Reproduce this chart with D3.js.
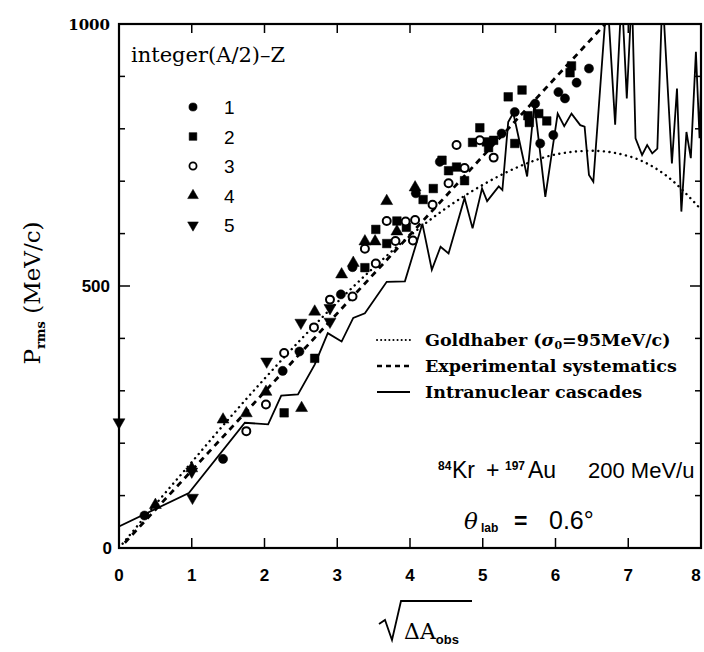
<!DOCTYPE html>
<html>
<head>
<meta charset="utf-8">
<script src="https://cdn.jsdelivr.net/npm/d3@7"></script>
<style>
  body { margin: 0; background: #fff; }
  svg text { fill: #000; }
</style>
</head>
<body>
<div class="chart"></div>
<script>
const width = 704,
    height = 652;

// data: [sqrt(dA), Prms]
const goldhaber = [[0, 0], [0.5, 83], [1, 164], [1.5, 245], [2, 323], [2.5, 398], [3, 469], [3.5, 535],
    [4, 596], [4.5, 649], [5, 693], [5.5, 728], [6, 751], [6.5, 758], [7, 748], [7.5, 713], [8, 646]];
const systematics = [[0.08, 10], [6.75, 1010]];
const cascades = [[0, 41], [0.96, 105], [1.73, 239], [2.05, 236], [2.23, 291], [2.46, 293], [2.69, 350],
    [2.87, 410], [3.06, 394], [3.22, 439], [3.38, 448], [3.68, 508], [3.93, 509], [4.17, 619], [4.30, 531],
    [4.42, 575], [4.53, 562], [4.75, 668], [4.86, 610], [4.99, 686], [5.06, 662], [5.22, 690], [5.27, 683],
    [5.35, 813], [5.42, 830], [5.61, 709], [5.71, 848], [5.86, 670], [6.03, 829], [6.12, 805], [6.22, 829],
    [6.34, 807], [6.40, 804], [6.46, 712], [6.52, 699], [6.71, 1060], [6.82, 808], [6.91, 1060], [6.98, 858],
    [7.05, 1060], [7.10, 782], [7.19, 750], [7.26, 769], [7.33, 753], [7.40, 762], [7.47, 1060], [7.60, 734],
    [7.67, 877], [7.73, 642], [7.80, 794], [7.86, 744], [7.93, 947], [7.98, 782], [8.0, 883], [8.1, 883]];

const group1 = [[0.35, 62], [1.43, 170], [2.25, 338], [2.48, 375], [3.05, 484], [3.21, 536], [4.08, 677],
    [4.41, 737], [5.26, 791], [5.44, 832], [5.72, 848], [5.79, 772], [5.97, 788], [6.04, 870], [6.13, 858],
    [6.29, 888], [6.46, 915]];
const group2 = [[2.27, 258], [2.69, 362], [3.38, 535], [3.53, 608], [3.68, 581], [3.82, 624], [3.95, 612],
    [4.18, 665], [4.32, 686], [4.44, 740], [4.53, 720], [4.64, 727], [4.75, 701], [4.86, 774], [4.96, 802],
    [5.05, 775], [5.08, 764], [5.15, 778], [5.35, 861], [5.44, 772], [5.54, 874], [5.62, 825], [5.64, 812],
    [5.77, 829], [5.88, 815], [6.20, 907], [6.22, 920]];
const group3 = [[1.75, 223], [2.02, 274], [2.27, 372], [2.68, 421], [2.90, 474], [3.21, 480], [3.38, 571],
    [3.53, 543], [3.68, 624], [3.80, 586], [3.94, 623], [4.04, 587], [4.07, 626], [4.31, 655], [4.53, 696],
    [4.64, 769], [4.75, 725], [4.96, 778], [5.15, 745]];
const group4 = [[0.5, 82], [1.0, 152], [1.43, 245], [1.75, 257], [2.02, 298], [2.51, 267], [2.69, 451],
    [3.06, 522], [3.22, 544], [3.38, 585], [3.52, 585], [3.68, 662], [3.82, 604], [4.07, 688]];
const group5 = [[0, 240], [1.01, 96], [1.0, 146], [2.03, 356], [2.50, 430], [2.90, 458], [2.90, 432]];

const groupLabels = ["1", "2", "3", "4", "5"];
const xTicks = [0, 1, 2, 3, 4, 5, 6, 7, 8];
const yLabels = [0, 500, 1000];

const x = d3.scaleLinear().domain([0, 8]).range([119, 701]);
const y = d3.scaleLinear().domain([0, 1000]).range([548, 24]);

const svg = d3.select(".chart").append("svg")
    .attr("width", width)
    .attr("height", height);

svg.append("clipPath").attr("id", "plot")
    .append("rect")
    .attr("x", x(0)).attr("y", y(1000))
    .attr("width", x(8) - x(0)).attr("height", y(0) - y(1000));

// ticks
const minorY = d3.range(0, 1001, 100);
svg.append("g").selectAll("line")
    .data(minorY)
    .join("line")
    .attr("x1", x(0)).attr("x2", d => x(0) + (d % 500 == 0 ? 11 : 6))
    .attr("y1", d => y(d)).attr("y2", d => y(d))
    .attr("stroke", "#000").attr("stroke-width", 1.5);
svg.append("g").selectAll("line")
    .data(minorY)
    .join("line")
    .attr("x1", x(8)).attr("x2", d => x(8) - (d % 500 == 0 ? 11 : 6))
    .attr("y1", d => y(d)).attr("y2", d => y(d))
    .attr("stroke", "#000").attr("stroke-width", 1.5);
svg.append("g").selectAll("line")
    .data(xTicks)
    .join("line")
    .attr("x1", d => x(d)).attr("x2", d => x(d))
    .attr("y1", y(0)).attr("y2", y(0) - 10)
    .attr("stroke", "#000").attr("stroke-width", 1.5);
svg.append("g").selectAll("line")
    .data(xTicks)
    .join("line")
    .attr("x1", d => x(d)).attr("x2", d => x(d))
    .attr("y1", y(1000)).attr("y2", y(1000) + 9)
    .attr("stroke", "#000").attr("stroke-width", 1.5);

svg.append("rect")
    .attr("x", x(0)).attr("y", y(1000))
    .attr("width", x(8) - x(0)).attr("height", y(0) - y(1000))
    .attr("fill", "none").attr("stroke", "#000").attr("stroke-width", 2.2);

// tick labels
svg.append("g").selectAll("text")
    .data(xTicks)
    .join("text")
    .attr("x", d => d == 8 ? x(d) - 5 : x(d)).attr("y", 581)
    .attr("text-anchor", "middle")
    .style("font-family", "Liberation Sans, Arial, sans-serif")
    .style("font-weight", "bold")
    .style("font-size", "17px")
    .text(d => d);
svg.append("g").selectAll("text")
    .data(yLabels)
    .join("text")
    .attr("x", d => d == 0 ? 112 : 110).attr("y", d => y(d) + 6)
    .attr("text-anchor", "end")
    .style("font-family", d => d == 1000 ? "DejaVu Serif, serif" : "Liberation Sans, Arial, sans-serif")
    .style("font-weight", "bold")
    .style("font-size", d => d == 1000 ? "15px" : "17px")
    .text(d => d);

// curves
const curves = svg.append("g").attr("clip-path", "url(#plot)");
curves.append("path").datum(goldhaber)
    .attr("d", d3.line().curve(d3.curveMonotoneX).x(d => x(d[0])).y(d => y(d[1])))
    .attr("fill", "none").attr("stroke", "#000")
    .attr("stroke-width", 2.4).attr("stroke-dasharray", "0.1 5.5").attr("stroke-linecap", "round");
curves.append("path").datum(systematics)
    .attr("d", d3.line().x(d => x(d[0])).y(d => y(d[1])))
    .attr("fill", "none").attr("stroke", "#000")
    .attr("stroke-width", 2.8).attr("stroke-dasharray", "6 5");
curves.append("path").datum(cascades)
    .attr("d", d3.line().x(d => x(d[0])).y(d => y(d[1])))
    .attr("fill", "none").attr("stroke", "#000")
    .attr("stroke-width", 1.8).attr("stroke-linejoin", "miter");

// markers
const groups = [
    { data: group1, type: d3.symbolCircle, size: 66, fill: "#000", rot: 0 },
    { data: group2, type: d3.symbolSquare, size: 74, fill: "#000", rot: 0 },
    { data: group3, type: d3.symbolCircle, size: 50, fill: "#fff", rot: 0 },
    { data: group4, type: d3.symbolTriangle, size: 62, fill: "#000", rot: 0 },
    { data: group5, type: d3.symbolTriangle, size: 62, fill: "#000", rot: 180 }
];
const marks = svg.append("g");
groups.forEach(g => {
    marks.append("g").selectAll("path")
        .data(g.data)
        .join("path")
        .attr("d", d3.symbol().type(g.type).size(g.size))
        .attr("transform", d => `translate(${x(d[0])},${y(d[1])}) rotate(${g.rot})`)
        .attr("fill", g.fill)
        .attr("stroke", "#000")
        .attr("stroke-width", g.fill == "#fff" ? 2 : 0.5);
});

// marker legend
svg.append("text")
    .attr("x", 131).attr("y", 62)
    .style("font-family", "DejaVu Serif, serif")
    .style("font-size", "21px")
    .text("integer(A/2)\u2013Z");
groups.forEach((g, i) => {
    const ly = 107 + i * 29.5;
    svg.append("path")
        .attr("d", d3.symbol().type(g.type).size(g.size * 0.8))
        .attr("transform", `translate(193,${ly}) rotate(${g.rot})`)
        .attr("fill", g.fill).attr("stroke", "#000")
        .attr("stroke-width", g.fill == "#fff" ? 1.8 : 0.5);
    svg.append("text")
        .attr("x", 224).attr("y", ly + 7)
        .style("font-family", "Liberation Sans, Arial, sans-serif")
        .style("font-size", "19px")
        .text(groupLabels[i]);
});

// line legend
const lineLegend = [
    { y: 340, dash: "0.1 4", w: 2, cap: "round" },
    { y: 366, dash: "5 4", w: 2.6, cap: "butt" },
    { y: 392, dash: null, w: 1.8, cap: "butt" }
];
lineLegend.forEach(l => {
    svg.append("line")
        .attr("x1", 377).attr("x2", 410).attr("y1", l.y).attr("y2", l.y)
        .attr("stroke", "#000").attr("stroke-width", l.w)
        .attr("stroke-dasharray", l.dash).attr("stroke-linecap", l.cap);
});
const legendFont = t => t
    .style("font-family", "DejaVu Serif, serif")
    .style("font-size", "17.5px")
    .style("font-weight", "bold");
const g1 = svg.append("text").attr("x", 425).attr("y", 346).call(legendFont);
g1.append("tspan").text("Goldhaber (");
g1.append("tspan").style("font-style", "italic").text("\u03c3");
g1.append("tspan").attr("dy", 3).style("font-size", "11px").text("0");
g1.append("tspan").attr("dy", -3).text("=95MeV/c)");
svg.append("text").attr("x", 425).attr("y", 372).call(legendFont).text("Experimental systematics");
svg.append("text").attr("x", 425).attr("y", 398).call(legendFont).text("Intranuclear cascades");

// reaction annotation
const sans = t => t
    .style("font-family", "Liberation Sans, Arial, sans-serif")
    .style("font-size", "23px");
const sup = t => t
    .style("font-family", "Liberation Sans, Arial, sans-serif")
    .style("font-size", "12px")
    .style("font-weight", "bold");
svg.append("text").attr("x", 438).attr("y", 470).call(sup).text("84");
svg.append("text").attr("x", 452).attr("y", 478).call(sans).text("Kr");
svg.append("text").attr("x", 486).attr("y", 478).call(sans).text("+");
svg.append("text").attr("x", 505).attr("y", 470).call(sup).text("197");
svg.append("text").attr("x", 528).attr("y", 478).call(sans).text("Au");
svg.append("text").attr("x", 588).attr("y", 478).call(sans)
    .style("font-size", "22px").text("200 MeV/u");

svg.append("text").attr("x", 464).attr("y", 529).call(sans)
    .style("font-family", "DejaVu Serif, serif").style("font-style", "italic").text("\u03b8");
svg.append("text").attr("x", 481).attr("y", 532).call(sup).text("lab");
svg.append("text").attr("x", 514).attr("y", 529).call(sans).style("font-weight", "bold").text("=");
svg.append("text").attr("x", 549).attr("y", 529).call(sans).style("font-size", "25px").text("0.6\u00b0");

// axis titles
const yt = svg.append("text")
    .attr("transform", "translate(40,293) rotate(-90)")
    .attr("text-anchor", "middle")
    .style("font-family", "DejaVu Serif, serif")
    .style("font-size", "23px");
yt.append("tspan").text("P");
yt.append("tspan").attr("dy", 5).style("font-size", "13px").style("font-weight", "bold").text("rms");
yt.append("tspan").attr("dy", -5).text(" (MeV/c)");

svg.append("path")
    .attr("d", "M379,624 L385,620 L392,640 L401,601 L472,601")
    .attr("fill", "none").attr("stroke", "#000").attr("stroke-width", 1.8);
const xt = svg.append("text").attr("x", 404).attr("y", 639)
    .style("font-family", "DejaVu Serif, serif")
    .style("font-size", "22px");
xt.append("tspan").text("\u0394A");
xt.append("tspan").attr("dy", 5).style("font-family", "Liberation Sans, Arial, sans-serif")
    .style("font-size", "13px").style("font-weight", "bold").text("obs");
</script>
</body>
</html>
